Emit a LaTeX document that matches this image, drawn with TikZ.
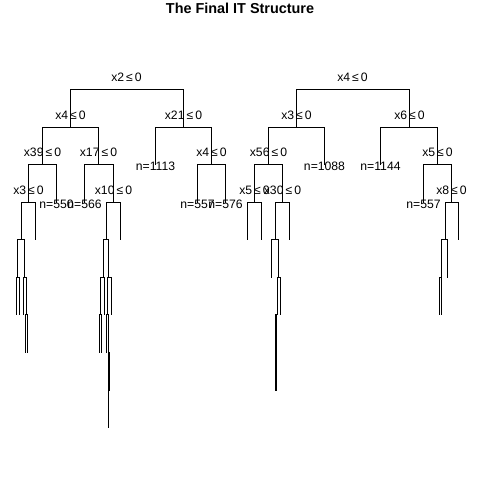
\documentclass[tikz,border=0pt]{standalone}
\usepackage{fontspec}
\setmainfont{Liberation Sans}
\begin{document}
\begin{tikzpicture}[x=1pt,y=-1pt,
  branch/.style={line width=1pt},
  lab/.style={anchor=base, inner sep=0pt, font=\fontsize{12.2}{14}\selectfont},
  splitlab/.style={lab, yshift=8.5pt},
  leaflab/.style={lab, yshift=-6pt},
  titlelab/.style={anchor=base, inner sep=0pt, font=\fontsize{14.4}{16}\selectfont\bfseries}]
\useasboundingbox (0,0) rectangle (480,480);

\node[titlelab] (title) at (240,13.3) {The Final IT Structure};

% ---- left tree ----
\coordinate (r1) at (126.5,89.5);
\coordinate (a) at (70.5,127.5);   \coordinate (b) at (183.5,127.5);
\coordinate (aa) at (42.5,164.5);  \coordinate (ab) at (98.5,164.5);
\coordinate (aaa) at (28.5,202.5); \coordinate (l550) at (56.5,202.5);
\coordinate (l566) at (84.5,202.5); \coordinate (abb) at (113.5,202.5);
\coordinate (p1) at (21.5,239.5);  \coordinate (p2) at (35.5,239.5);
\coordinate (p11) at (17.5,277.5); \coordinate (p12) at (24.5,277.5);
\coordinate (p111) at (16.5,314.5); \coordinate (p112) at (19.5,314.5);
\coordinate (p121) at (23.5,314.5); \coordinate (p122) at (26.5,314.5);
\coordinate (p1221) at (25.5,352.5); \coordinate (p1222) at (27.5,352.5);
\coordinate (q1) at (106.5,239.5); \coordinate (q2) at (120.5,239.5);
\coordinate (q11) at (103.5,277.5); \coordinate (q12) at (108.5,277.5);
\coordinate (q111) at (100.5,314.5); \coordinate (q112) at (104.5,314.5);
\coordinate (q1111) at (99.5,352.5); \coordinate (q1112) at (101.5,352.5);
\coordinate (q121) at (107.5,314.5); \coordinate (q122) at (111.5,314.5);
\coordinate (q1211) at (106.5,352.5); \coordinate (q1212) at (108.5,352.5);
\coordinate (q12121) at (109.5,390.5); \coordinate (q12122) at (108.5,390.5);
\coordinate (q121221) at (108.5,427.5); \coordinate (q121222) at (108.5,427.5);
\coordinate (l1113) at (155.5,164.5); \coordinate (bb) at (211.5,164.5);
\coordinate (l557a) at (197.5,202.5); \coordinate (l576) at (225.5,202.5);

% ---- right tree ----
\coordinate (r2) at (352.5,89.5);
\coordinate (c) at (296.5,127.5);  \coordinate (d) at (409.5,127.5);
\coordinate (cc) at (268.5,164.5); \coordinate (l1088) at (324.5,164.5);
\coordinate (ccc) at (254.5,202.5); \coordinate (ccd) at (282.5,202.5);
\coordinate (u1) at (247.5,239.5); \coordinate (u2) at (261.5,239.5);
\coordinate (s1) at (275.5,239.5); \coordinate (s2) at (289.5,239.5);
\coordinate (s11) at (271.5,277.5); \coordinate (s12) at (278.5,277.5);
\coordinate (s121) at (277.5,314.5); \coordinate (s122) at (280.5,314.5);
\coordinate (s1211) at (275.5,352.5); \coordinate (s1212) at (276.5,352.5);
\coordinate (s12111) at (275.5,390.5); \coordinate (s12112) at (276.5,390.5);
\coordinate (l1144) at (380.5,164.5); \coordinate (e) at (437.5,164.5);
\coordinate (l557b) at (423.5,202.5); \coordinate (f) at (451.5,202.5);
\coordinate (g) at (445.5,239.5);  \coordinate (g2) at (458.5,239.5);
\coordinate (h) at (441.5,277.5);  \coordinate (h2) at (447.5,277.5);
\coordinate (h11) at (439.5,314.5); \coordinate (h12) at (441.5,314.5);

% branches: horizontal from the parent, then down to the child
\foreach \p/\c in {r1/a, r1/b, a/aa, a/ab, aa/aaa, aa/l550, ab/l566, ab/abb,
    aaa/p1, aaa/p2, p1/p11, p1/p12, p11/p111, p11/p112, p12/p121, p12/p122,
    p122/p1221, p122/p1222,
    abb/q1, abb/q2, q1/q11, q1/q12, q11/q111, q11/q112, q111/q1111, q111/q1112,
    q12/q121, q12/q122, q121/q1211, q121/q1212, q1212/q12121, q1212/q12122,
    q12122/q121221, q12122/q121222,
    b/l1113, b/bb, bb/l557a, bb/l576,
    r2/c, r2/d, c/cc, c/l1088, cc/ccc, cc/ccd, ccc/u1, ccc/u2, ccd/s1, ccd/s2,
    s1/s11, s1/s12, s12/s121, s12/s122, s121/s1211, s121/s1212,
    s1211/s12111, s1211/s12112,
    d/l1144, d/e, e/l557b, e/f, f/g, f/g2, g/h, g/h2, h/h11, h/h12}
  \draw[branch] (\p) -| (\c);

% split labels
\node[splitlab] (t-r1) at (r1) {x2\,≤\,0};
\node[splitlab] (t-a) at (a) {x4\,≤\,0};
\node[splitlab] (t-b) at (b) {x21\,≤\,0};
\node[splitlab] (t-aa) at (aa) {x39\,≤\,0};
\node[splitlab] (t-ab) at (ab) {x17\,≤\,0};
\node[splitlab] (t-aaa) at (aaa) {x3\,≤\,0};
\node[splitlab] (t-abb) at (abb) {x10\,≤\,0};
\node[splitlab] (t-bb) at (bb) {x4\,≤\,0};
\node[splitlab] (t-r2) at (r2) {x4\,≤\,0};
\node[splitlab] (t-c) at (c) {x3\,≤\,0};
\node[splitlab] (t-d) at (d) {x6\,≤\,0};
\node[splitlab] (t-cc) at (cc) {x56\,≤\,0};
\node[splitlab] (t-ccc) at (ccc) {x5\,≤\,0};
\node[splitlab] (t-ccd) at (ccd) {x30\,≤\,0};
\node[splitlab] (t-e) at (e) {x5\,≤\,0};
\node[splitlab] (t-f) at (f) {x8\,≤\,0};

% leaf labels
\node[leaflab] (t-l550) at (l550) {n=550};
\node[leaflab] (t-l566) at (l566) {n=566};
\node[leaflab] (t-l1113) at (l1113) {n=1113};
\node[leaflab] (t-l557a) at (l557a) {n=557};
\node[leaflab] (t-l576) at (l576) {n=576};
\node[leaflab] (t-l1088) at (l1088) {n=1088};
\node[leaflab] (t-l1144) at (l1144) {n=1144};
\node[leaflab] (t-l557b) at (l557b) {n=557};
\end{tikzpicture}
\end{document}
